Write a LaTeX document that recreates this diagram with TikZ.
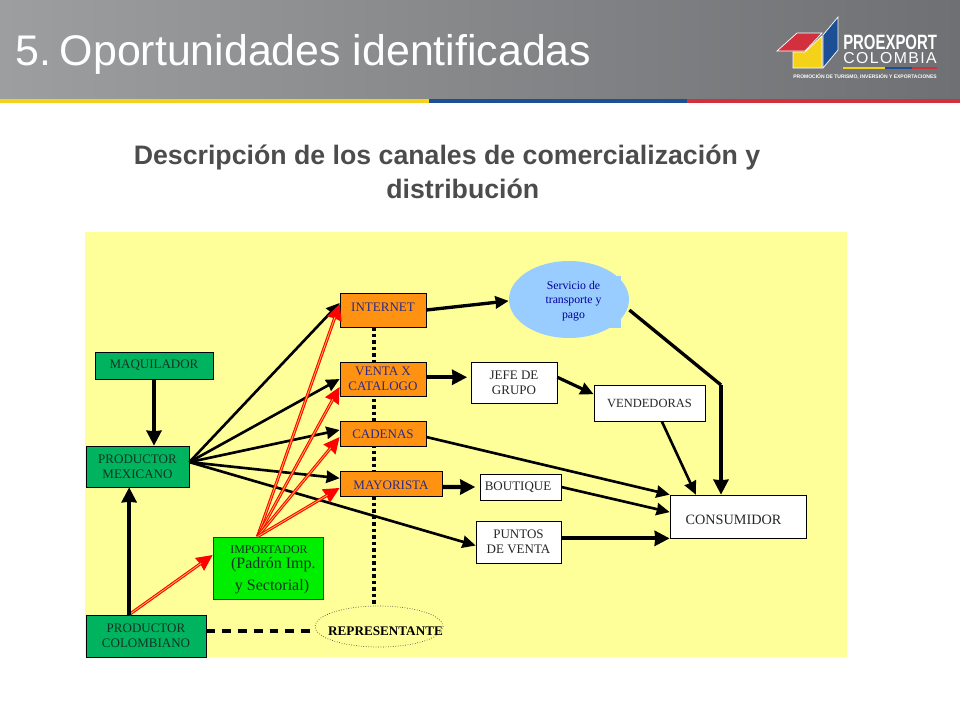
\documentclass[tikz,border=0pt]{standalone}
\usepackage{fontspec}
\setmainfont{Liberation Serif}
\newfontfamily\arialfont{Liberation Sans}
\usetikzlibrary{arrows.meta, shapes.geometric, calc}

\definecolor{canvas}{HTML}{FFFF99}
\definecolor{greenbox}{HTML}{00B45F}
\definecolor{limebox}{HTML}{00EE00}
\definecolor{orangebox}{HTML}{FF9311}
\definecolor{bluebubble}{HTML}{99CCFF}
\definecolor{darkink}{HTML}{143326}
\definecolor{navyink}{HTML}{2A2A8A}
\definecolor{headL}{HTML}{9C9E9F}
\definecolor{headR}{HTML}{6F7073}
\definecolor{flagyellow}{HTML}{F5D21A}
\definecolor{flagblue}{HTML}{1D4F96}
\definecolor{flagred}{HTML}{D2303C}
\definecolor{importcore}{HTML}{FFB040}

\begin{document}
\begin{tikzpicture}[x=0.02cm, y=-0.02cm,
  wh/.style 2 args={minimum width=#1*0.02cm, minimum height=#2*0.02cm},
  box/.style={draw=black, inner sep=0pt, align=center,
              font=\fontsize{7.4}{8.4}\selectfont},
  producer/.style={box, fill=greenbox, text=darkink},
  channel/.style={box, fill=orangebox, text=navyink},
  outlet/.style={box, fill=white, text=black!85},
  fan/.style={line width=1.5pt, black, -{Stealth[length=7.5pt, width=7pt, inset=0.3pt]}},
  heavy/.style={line width=2.4pt, black, -{Stealth[length=8.5pt, width=8.5pt, inset=0.3pt]}},
  import/.style={draw=red, line width=1.7pt, -{Stealth[length=9pt, width=8.5pt, inset=0.3pt]}},
  importline/.style={importcore, line width=0.5pt, shorten >=8pt}
]
  \useasboundingbox (0,0) rectangle (960,720);

  % Header band
  \fill[left color=headL, right color=headR] (0,0) rectangle (960,99);
  \fill[flagyellow] (0,99) rectangle (429,103);
  \fill[flagblue] (429,99) rectangle (687,103);
  \fill[flagred] (687,99) rectangle (960,103);
  \node[anchor=west, text=white, inner sep=0pt, font=\arialfont\fontsize{24.4}{30}\selectfont] (title) at (15,54) {5.\kern5pt Oportunidades identificadas};

  % Logo
  \fill[flagblue, draw=white, thin] (823,35) -- (838,17) -- (838,50) -- (823,68) -- cycle;
  \fill[flagyellow, draw=white, thin] (793,52) -- (805,52) -- (822,36) -- (822,68) -- (793,68) -- cycle;
  \fill[flagred, draw=white, thin] (777,51) -- (797,33) -- (822,33) -- (805,51) -- cycle;
  \node[anchor=west, text=white, inner sep=0pt, xscale=0.72, font=\arialfont\bfseries\fontsize{11.8}{12}\selectfont] (proexport) at (843,42) {PROEXPORT};
  \node[anchor=west, text=white, inner sep=0pt, font=\arialfont\fontsize{9}{10}\selectfont] (colombia) at (843,58) {C\kern0.8pt O\kern0.8pt L\kern0.8pt O\kern0.8pt M\kern0.8pt B\kern0.8pt I\kern0.8pt A};
  \fill[flagyellow] (843,66.5) rectangle (885,68.5);
  \fill[flagblue] (885,66.5) rectangle (912,68.5);
  \fill[flagred] (912,66.5) rectangle (937,68.5);
  \node[anchor=west, text=white, inner sep=0pt, xscale=0.98, font=\arialfont\bfseries\fontsize{2.9}{3}\selectfont] (promo) at (793,77) {PROMOCIÓN DE TURISMO, INVERSIÓN Y EXPORTACIONES};

  % Heading
  \node[align=center, text=black!70, inner sep=0pt, font=\arialfont\bfseries\fontsize{15.2}{19}\selectfont] (heading) at (447,172) {Descripción de los canales de comercialización y\\\hspace{18pt}distribución};

  % Canvas
  \fill[canvas] (85,232) rectangle (847,657);

  % Dotted axis
  \coordinate (axis) at (374,327);
  \draw[line width=2pt, black, dash pattern=on 2pt off 1.7pt] (axis) -- (374,606);

  % Boxes
  \node[producer, wh={118}{27}] (maquilador) at (154,365.5) {MAQUILADOR};
  \node[producer, wh={103}{41}] (mexicano) at (137.5,466.5) {PRODUCTOR\\MEXICANO};
  \node[producer, wh={120}{42}] (colombiano) at (146,636) {PRODUCTOR\\COLOMBIANO};
  \node[box, draw=red!70!black, fill=limebox, wh={110}{62}] (importador) at (268,568) {};
  \node[text=darkink, inner sep=0pt, font=\fontsize{6.8}{8}\selectfont] (importa) at (269,549.5) {IMPORTADOR};
  \node[text=darkink, inner sep=0pt, align=center, font=\fontsize{9.1}{12.5}\selectfont] (padron) at (272,576) {\,(Padrón Imp.\\y Sectorial)};

  \node[channel, wh={86}{34}] (internet) at (383,310) {\rule[-3.5pt]{0pt}{0pt}INTERNET};
  \node[channel, wh={86}{34}] (catalogo) at (383,379) {VENTA X\\CATALOGO};
  \node[channel, wh={86}{25}] (cadenas) at (383,433.5) {\rule{0pt}{6pt}CADENAS};
  \node[channel, wh={102}{25}] (mayorista) at (391,483.5) {\rule{0pt}{7pt}MAYORISTA};

  \fill[bluebubble] (560,276) rectangle (621,328);
  \node[ellipse, fill=bluebubble, inner sep=0pt, wh={120}{77}] (servicio) at (569,299.5) {};
  \node[align=center, text=blue!60!black, inner sep=0pt, font=\fontsize{6.7}{8.4}\selectfont] (serviciotxt) at (573.5,301) {Servicio de\\transporte y\\pago};

  \node[outlet, wh={86}{41}] (jefe) at (514,382.5) {JEFE DE\\GRUPO};
  \node[outlet, wh={111}{36}, font=\fontsize{7.1}{8.4}\selectfont] (vendedoras) at (649.5,403) {VENDEDORAS};
  \node[outlet, wh={81}{26}] (boutique) at (520.5,487) {BOUTIQUE\hspace{2.8pt}};
  \node[outlet, wh={85}{42}] (puntos) at (518.5,542) {PUNTOS\\DE VENTA};
  \node[outlet, wh={136}{43}] (consumidor) at (738,516.5) {};
  \node[text=black!85, inner sep=0pt, font=\fontsize{8.1}{9}\selectfont] (consumidortxt) at (733.5,520) {CONSUMIDOR};

  \node[ellipse, draw=black!70, densely dotted, thin, inner sep=0pt, wh={128}{41}] (representante) at (379,626.5) {};
  \node[text=black, inner sep=0pt, font=\bfseries\fontsize{7.5}{8}\selectfont] (reptxt) at (385.5,631) {REPRESENTANTE};

  % Mexican producer fan
  \coordinate (fanorigin) at ([yshift=2.5pt]mexicano.east);
  \draw[fan] (fanorigin) -- ([yshift=4pt]internet.west);
  \draw[fan] (fanorigin) -- (catalogo.west);
  \draw[fan] (fanorigin) -- ([yshift=2pt]cadenas.west);
  \draw[fan] (fanorigin) -- ([yshift=3pt]mayorista.west);
  \draw[fan] (fanorigin) -- ([yshift=-2pt]puntos.west);

  % Import routes
  \coordinate (imporigin) at ([xshift=-6pt]importador.north);
  \foreach \target/\lift in {internet/3.5, catalogo/-4.5, cadenas/-2, mayorista/-2.5} {
    \draw[import] (imporigin) -- ([yshift=\lift pt]\target.west);
    \draw[importline] (imporigin) -- ([yshift=\lift pt]\target.west);
  }
  \coordinate (colorigin) at ([xshift=-9.6pt]colombiano.north);
  \draw[import] (colorigin) -- ([yshift=7.4pt]importador.west);
  \draw[importline] (colorigin) -- ([yshift=7.4pt]importador.west);

  % Vertical feeds
  \draw[heavy] (maquilador.south) -- (maquilador.south |- mexicano.north);
  \draw[heavy] (colorigin) -- (colorigin |- mexicano.south);
  \coordinate (dashstart) at ([yshift=2.8pt]colombiano.east);
  \draw[line width=2.4pt, dash pattern=on 5pt off 4pt] (dashstart) -- (dashstart -| representante.west);

  % Towards the consumer
  \coordinate (bend) at (721,385);
  \draw[fan, line width=1.9pt] (internet.east) -- ([yshift=-0.8pt]servicio.west);
  \coordinate (catalogoexit) at ([yshift=1pt]catalogo.east);
  \draw[heavy] (catalogoexit) -- ([xshift=-2pt]catalogoexit -| jefe.west);
  \draw[fan, line width=1.8pt] ([yshift=3pt]jefe.east) -- ([yshift=5pt]vendedoras.west);
  \coordinate (mayoristaexit) at ([yshift=-2pt]mayorista.east);
  \draw[heavy] (mayoristaexit) -- ([xshift=-2.5pt]boutique.west);
  \draw[line width=1.9pt] ([yshift=-6pt]servicio.east) -- (bend);
  \draw[heavy] (bend) -- (bend |- consumidor.north);
  \draw[fan] ([xshift=7pt]vendedoras.south) -- ([xshift=-24pt]consumidor.north);
  \draw[fan] ([yshift=-2pt]cadenas.east) -- (consumidor.north west);
  \draw[fan] (boutique.east) -- ([yshift=2.5pt]consumidor.west);
  \draw[heavy] (puntos.east |- consumidor.south) -- (consumidor.south west);
\end{tikzpicture}
\end{document}
